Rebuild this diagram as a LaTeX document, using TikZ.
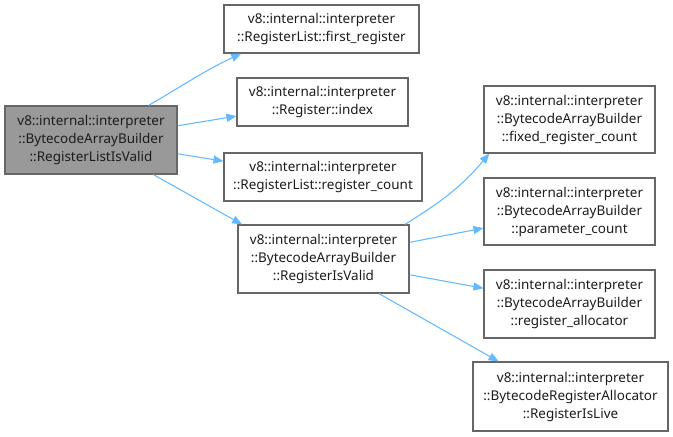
\documentclass[tikz,border=0pt]{standalone}
\usepackage{fontspec}
\setmainfont{Noto Sans}
\usetikzlibrary{arrows.meta}
\definecolor{edgeblue}{HTML}{63B8FF}
\definecolor{boxline}{HTML}{666666}
\definecolor{rootfill}{HTML}{999999}
\definecolor{txt}{HTML}{1C1C1C}
\begin{document}
\begin{tikzpicture}[x=0.75pt,y=-0.75pt,
  box/.style={draw=boxline, fill=white, line width=0.8pt, align=center, inner sep=0pt,
    font=\fontsize{10.1pt}{13.5pt}\selectfont, text=txt},
  rootbox/.style={box, fill=rootfill},
  edge/.style={draw=edgeblue, line width=0.8pt, -{Triangle[length=7.5pt,width=6pt]}}]
\useasboundingbox (0,0) rectangle (673,436);
\node[rootbox, minimum width=129pt, minimum height=51pt] (root) at (91,140)
  {v8::internal::interpreter\\::BytecodeArrayBuilder\\::RegisterListIsValid};
\node[box, minimum width=146.25pt, minimum height=36pt] (first) at (321.5,29)
  {v8::internal::interpreter\\::RegisterList::first\_register};
\node[box, minimum width=128.25pt, minimum height=36pt] (index) at (322.5,102)
  {v8::internal::interpreter\\::Register::index};
\node[box, minimum width=148.5pt, minimum height=36pt] (count) at (323,177)
  {v8::internal::interpreter\\::RegisterList::register\_count};
\node[box, minimum width=128.25pt, minimum height=51pt] (valid) at (323.5,259)
  {v8::internal::interpreter\\::BytecodeArrayBuilder\\::RegisterIsValid};
\node[box, minimum width=128.25pt, minimum height=50.25pt] (fixed) at (569.5,119.5)
  {v8::internal::interpreter\\::BytecodeArrayBuilder\\::fixed\_register\_count};
\node[box, minimum width=128.25pt, minimum height=50.25pt] (param) at (569.5,211.5)
  {v8::internal::interpreter\\::BytecodeArrayBuilder\\::parameter\_count};
\node[box, minimum width=128.25pt, minimum height=51pt] (alloc) at (569.5,304)
  {v8::internal::interpreter\\::BytecodeArrayBuilder\\::register\_allocator};
\node[box, minimum width=146.25pt, minimum height=51.75pt] (live) at (570.5,396.5)
  {v8::internal::interpreter\\::BytecodeRegisterAllocator\\::RegisterIsLive};
\draw[edge] (root.31) to[out=30, in=205] (first.197);
\draw[edge] (root) -- (index);
\draw[edge] (root) -- (count);
\draw[edge] (root.-29) -- (valid.157);
\draw[edge] (valid.23) to[out=32, in=230] (fixed.203);
\draw[edge] (valid) -- (param);
\draw[edge] (valid) -- (alloc);
\draw[edge] (valid.-32) -- (live.154);
\end{tikzpicture}
\end{document}
